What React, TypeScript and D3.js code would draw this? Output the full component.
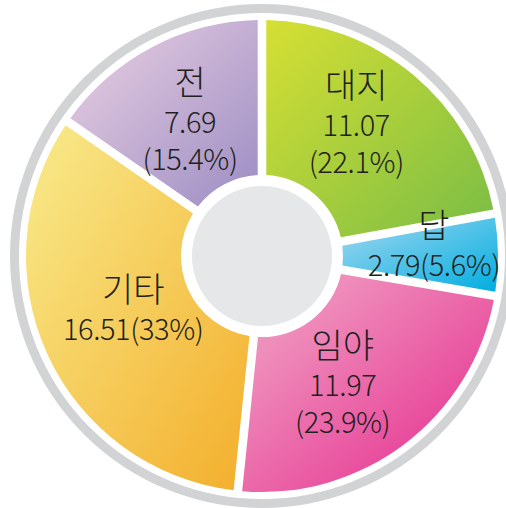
import React from 'react';
import * as d3 from 'd3';

// land use breakdown, clockwise from 12 o'clock
const categories = ['대지', '답', '임야', '기타', '전'];
const values = [11.07, 2.79, 11.97, 16.51, 7.69];
const percents = ['22.1', '5.6', '23.9', '33', '15.4'];

// gradient stops (light top-left -> dark bottom-right)
const colorsFrom = ['#d6df33', '#a3d8f0', '#f1aac8', '#f8eb8c', '#ecd2e3'];
const colorsTo = ['#79bd45', '#00ade0', '#e5268b', '#f3ae2b', '#9b8cc3'];

// label layout tweaks relative to the centroid
const labelNudge = [[-5, -15], [17, -12], [-13, 2], [12, -14], [0, 0]];
const labelSplit = [true, false, true, false, true];

const W = 506, H = 508;
const cx = 262, cy = 256;
const outerR = 236, innerR = 81, holeR = 70;

const App = () => {
  const pie = d3.pie<number>().sort(null).value(d => d);
  const arcs = pie(values);
  const arc = d3.arc<d3.PieArcDatum<number>>()
    .innerRadius(innerR)
    .outerRadius(outerR)
    .padAngle(0.086)
    .padRadius(100);
  const labelArc = d3.arc<d3.PieArcDatum<number>>().innerRadius(155).outerRadius(155);

  return (
    <svg width={W} height={H} style={{ position: 'absolute', left: 0, top: 0 }}>
      <defs>
        {categories.map((c, i) => (
          <linearGradient key={c} id={'g' + i} x1="0" y1="0" x2="1" y2="1">
            <stop offset="0" stopColor={colorsFrom[i]} />
            <stop offset="1" stopColor={colorsTo[i]} />
          </linearGradient>
        ))}
      </defs>
      <rect width={W} height={H} fill="#fff" />
      <circle cx={cx} cy={cy} r={247.5} fill="none" stroke="#d1d3d4" strokeWidth={9} />
      <g transform={`translate(${cx},${cy})`}>
        {arcs.map((a, i) => (
          <path key={i} d={arc(a) || ''} fill={`url(#g${i})`} />
        ))}
        <circle r={holeR} fill="#e6e7e8" />
        {arcs.map((a, i) => {
          const [x0, y0] = labelArc.centroid(a);
          const x = x0 + labelNudge[i][0];
          const y = y0 + labelNudge[i][1];
          const lines = labelSplit[i]
            ? [values[i].toFixed(2), `(${percents[i]}%)`]
            : [`${values[i].toFixed(2)}(${percents[i]}%)`];
          const top = lines.length === 2 ? y - 23.5 : y - 5;
          return (
            <g key={'l' + i} fill="#231f20" textAnchor="middle" fontWeight={300}
              style={{ fontFamily: '"Noto Sans CJK KR", "Noto Sans", sans-serif' }}>
              <text x={x} y={top} fontSize={34}>{categories[i]}</text>
              {lines.map((t, j) => (
                <text key={j} x={x} y={top + 38 + j * 37} fontSize={29} letterSpacing={-0.4}>{t}</text>
              ))}
            </g>
          );
        })}
      </g>
    </svg>
  );
};

export default App;
